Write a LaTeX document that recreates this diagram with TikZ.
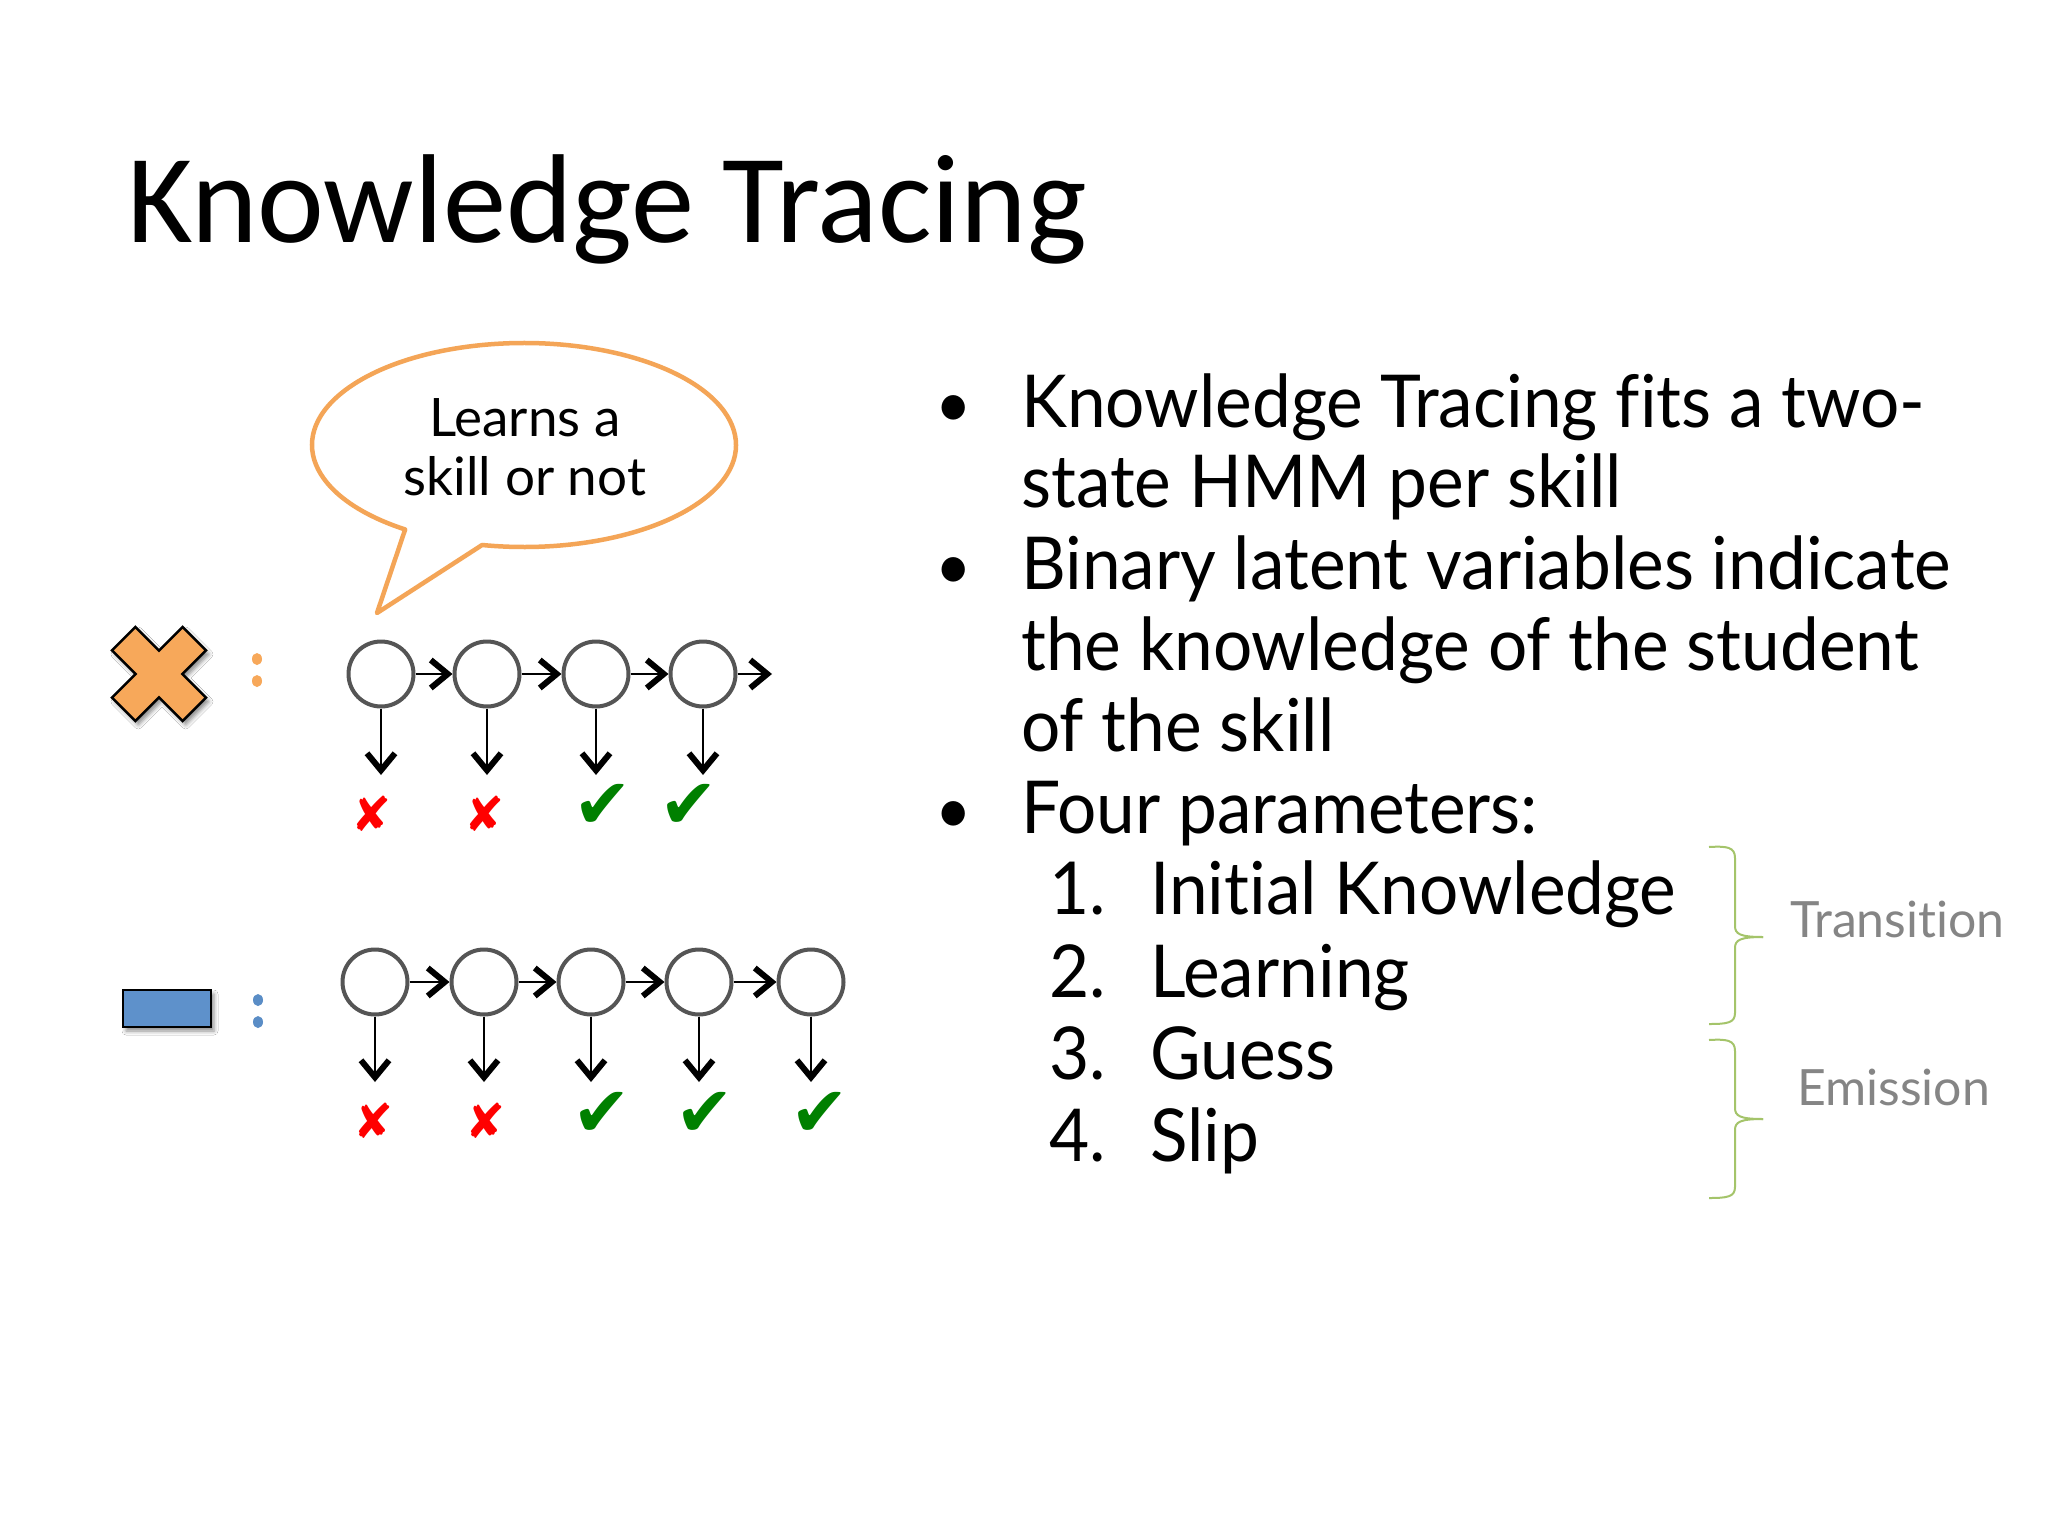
\documentclass[tikz,border=0pt]{standalone}
\usepackage{fontspec}
\setmainfont{Lato}
\newfontfamily\titlefont{Carlito}
\newfontfamily\bodyfont[FakeStretch=0.95,Ligatures=NoCommon]{Lato}
\newfontfamily\labelfont[Ligatures=NoCommon]{Lato}
\newfontfamily\symfont{DejaVu Sans}
\usetikzlibrary{arrows.meta,shadows.blur}
\definecolor{bubble}{HTML}{F4A557}
\definecolor{crossfill}{HTML}{F7A85A}
\definecolor{boxblue}{HTML}{5E91CB}
\definecolor{dotblue}{HTML}{5A8DC6}
\definecolor{nodegray}{HTML}{555555}
\definecolor{bracegreen}{HTML}{A4C46A}
\definecolor{labelgray}{HTML}{858585}
\definecolor{okgreen}{HTML}{008000}
\definecolor{badred}{HTML}{FF0000}
\begin{document}
\begin{tikzpicture}[x=1pt,y=-1pt,
  state/.style={circle, draw=nodegray, line width=4pt, minimum size=65pt, inner sep=0pt},
  flow/.style={-{Straight Barb[length=17pt,width=28pt,line width=6pt]}, line width=2.8pt, black},
  body/.style={anchor=base west, inner sep=0pt, font=\bodyfont\fontsize{73}{80}\selectfont},
  badmark/.style={text=badred, inner sep=0pt, font=\symfont\fontsize{48}{48}\selectfont},
  okmark/.style={text=okgreen, inner sep=0pt, font=\symfont\fontsize{70}{70}\selectfont},
  bracestyle/.style={draw=bracegreen, line width=2pt},
  brlabel/.style={anchor=base west, inner sep=0pt, text=labelgray, font=\labelfont\fontsize{50}{50}\selectfont},
  softshadow/.style={blur shadow={shadow xshift=3pt, shadow yshift=-4pt, shadow blur radius=4pt, shadow opacity=45}}
]
\useasboundingbox (0,0) rectangle (2048,1536);
\fill[white] (0,0) rectangle (2048,1536);

% title
\node[anchor=base west, inner sep=0pt, font=\titlefont\fontsize{126.5}{126.5}\selectfont] (title) at (127,242) {Knowledge Tracing};

% speech bubble
\draw[bubble, line width=4.5pt, fill=white, line join=round]
  (524,445) ++(124.1:212 and 102) coordinate (bj1)
  arc[start angle=124.1, end angle=461.4, x radius=212, y radius=102] coordinate (bj2)
  -- (377,613) coordinate (btip) -- cycle;
\node[align=center, inner sep=0pt, font=\labelfont\fontsize{53}{59}\selectfont, anchor=base] (btext) at (525,495) {Learns a\\skill or not};

% orange cross
\begin{scope}[shift={(159,674)}, rotate=45]
\draw[fill=crossfill, draw=black, line width=2.5pt, line join=miter, softshadow]
  (16.5,16.5) -- (50,16.5) -- (50,-16.5) -- (16.5,-16.5) -- (16.5,-50) -- (-16.5,-50)
  -- (-16.5,-16.5) -- (-50,-16.5) -- (-50,16.5) -- (-16.5,16.5) -- (-16.5,50) -- (16.5,50) -- cycle;
\end{scope}
\fill[crossfill] (257,659) ellipse[x radius=5, y radius=6];
\fill[crossfill] (257,681) ellipse[x radius=5, y radius=6];

% blue rectangle
\draw[fill=boxblue, draw=black, line width=2.5pt, softshadow] (123,990) rectangle (211,1027);
\fill[dotblue] (258,1000) ellipse[x radius=5, y radius=6];
\fill[dotblue] (258,1022) ellipse[x radius=5, y radius=6];

% row 1 chain
\node[state] (a1) at (381,674) {};
\node[state] (a2) at (487,674) {};
\node[state] (a3) at (596,674) {};
\node[state] (a4) at (703,674) {};
\coordinate (aend) at (772,674);
\draw[flow] (a1) -- (a2);
\draw[flow] (a2) -- (a3);
\draw[flow] (a3) -- (a4);
\draw[flow] (a4) -- (aend);
\foreach \i/\x in {1/381,2/487,3/596,4/703}{
  \coordinate (ao\i) at (\x,775);
  \draw[flow] (a\i.south) -- (ao\i);
}
\node[badmark] (am1) at (372,814) {✘};
\node[badmark] (am2) at (485,814) {✘};
\node[okmark] (am3) at (603,806) {✔};
\node[okmark] (am4) at (689,806) {✔};

% row 2 chain
\node[state] (b1) at (375,982) {};
\node[state] (b2) at (484,982) {};
\node[state] (b3) at (591,982) {};
\node[state] (b4) at (699,982) {};
\node[state] (b5) at (811,982) {};
\draw[flow] (b1) -- (b2);
\draw[flow] (b2) -- (b3);
\draw[flow] (b3) -- (b4);
\draw[flow] (b4) -- (b5);
\foreach \i/\x in {1/375,2/484,3/591,4/699,5/811}{
  \coordinate (bo\i) at (\x,1082);
  \draw[flow] (b\i.south) -- (bo\i);
}
\node[badmark] (bm1) at (374,1121) {✘};
\node[badmark] (bm2) at (486,1121) {✘};
\node[okmark] (bm3) at (602,1114) {✔};
\node[okmark] (bm4) at (705,1114) {✔};
\node[okmark] (bm5) at (820,1114) {✔};

% bullets and text
\foreach \y in {427,589,833}{
  \node[anchor=base, inner sep=0pt, font=\bodyfont\fontsize{66}{80}\selectfont] at (954,\y) {•};
}
\node[body] (l1) at (1021,427) {Knowledge Tracing fits a two-};
\node[body] (l2) at (1021,507) {state HMM per skill};
\node[body] (l3) at (1021,589) {Binary latent variables indicate};
\node[body] (l4) at (1021,670) {the knowledge of the student};
\node[body] (l5) at (1021,751) {of the skill};
\node[body] (l6) at (1021,833) {Four parameters:};
\node[body] (n1) at (1049,914) {1.};
\node[body] (n2) at (1049,997) {2.};
\node[body] (n3) at (1049,1079) {3.};
\node[body] (n4) at (1049,1161) {4.};
\node[body] (p1) at (1150,914) {Initial Knowledge};
\node[body] (p2) at (1150,997) {Learning};
\node[body] (p3) at (1150,1079) {Guess};
\node[body] (p4) at (1150,1161) {Slip};

% braces
\draw[bracestyle] (1709,847) .. controls (1727,846) and (1735,847) .. (1735,858)
  -- (1735,926) .. controls (1735,934) and (1740,937) .. (1763,937);
\draw[bracestyle] (1763,937) .. controls (1740,937) and (1735,940) .. (1735,948)
  -- (1735,1013) .. controls (1735,1023) and (1727,1024) .. (1709,1024);
\draw[bracestyle] (1709,1040) .. controls (1727,1039) and (1735,1040) .. (1735,1051)
  -- (1735,1108) .. controls (1735,1116) and (1740,1119) .. (1763,1119);
\draw[bracestyle] (1763,1119) .. controls (1740,1119) and (1735,1122) .. (1735,1130)
  -- (1735,1187) .. controls (1735,1197) and (1727,1198) .. (1709,1198);
\node[brlabel] (trans) at (1790,937) {Transition};
\node[brlabel] (emis) at (1797,1105) {Emission};
\end{tikzpicture}
\end{document}
